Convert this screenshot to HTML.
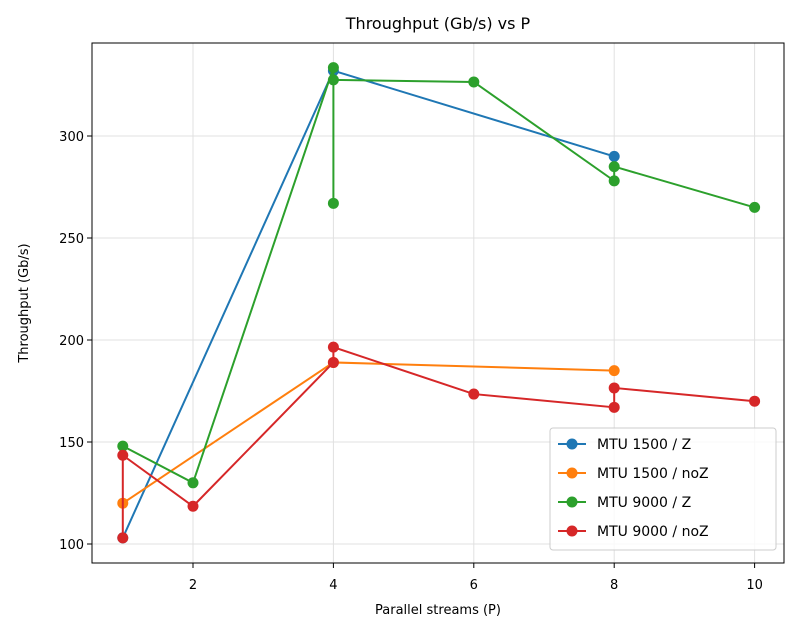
<!DOCTYPE html>
<html><head><meta charset="utf-8"><style>body{margin:0;background:#fff}svg{display:block;font-family:"DejaVu Sans","Liberation Sans",sans-serif}</style></head>
<body>
<svg id="chart" width="799" height="634">
<rect width="799" height="634" fill="#fff"/>
<g id="grid"></g><g id="series"></g><g id="axes"></g>
</svg>
<script>
const xTicks=[2,4,6,8,10];
const yTicks=[100,150,200,250,300];
const seriesNames=["MTU 1500 / Z","MTU 1500 / noZ","MTU 9000 / Z","MTU 9000 / noZ"];
const colors=["#1f77b4","#ff7f0e","#2ca02c","#d62728"];
const x1500Z=[1,4,8];
const y1500Z=[103,332,290];
const x1500N=[1,4,8];
const y1500N=[120,189,185];
const x9000Z=[1,2,4,4,4,6,8,8,10];
const y9000Z=[148,130,333.5,267,327.5,326.5,278,285,265];
const x9000N=[1,1,2,4,4,6,8,8,10];
const y9000N=[103,143.5,118.5,189,196.5,173.5,167,176.5,170];
const xs=[x1500Z,x1500N,x9000Z,x9000N], ys=[y1500Z,y1500N,y9000Z,y9000N];
const L=92,R=784,T=43,B=563;
const sx=v=>193+(v-2)*70.2;
const sy=v=>544-(v-100)*2.04;
const NS="http://www.w3.org/2000/svg";
function mk(tag,attrs,parent,text){const e=document.createElementNS(NS,tag);for(const k in attrs)e.setAttribute(k,attrs[k]);if(text!==undefined)e.textContent=text;parent.appendChild(e);return e;}
const grid=document.getElementById('grid'),ser=document.getElementById('series'),ax=document.getElementById('axes');
xTicks.forEach(t=>{const x=sx(t);
 const g=mk('line',{x1:x,x2:x,y1:T,y2:B,stroke:'#e0e0e0','stroke-width':1},grid);
 
 
 mk('line',{x1:x,x2:x,y1:B,y2:B+5,stroke:'#000'},ax);
 const tl=mk('text',{x:x,y:B+26,'text-anchor':'middle','font-size':13},ax,String(t));
 
 
});
yTicks.forEach(t=>{const y=sy(t);
 const g=mk('line',{x1:L,x2:R,y1:y,y2:y,stroke:'#e0e0e0','stroke-width':1},grid);
 
 
 mk('line',{x1:L-5,x2:L,y1:y,y2:y,stroke:'#000'},ax);
 const tl=mk('text',{x:L-8,y:y+5,'text-anchor':'end','font-size':13},ax,String(t));
 
 
});
xs.forEach((xa,i)=>{
 const pts=xa.map((x,j)=>sx(x)+','+sy(ys[i][j])).join(' ');
 const pl=mk('polyline',{points:pts,fill:'none',stroke:colors[i],'stroke-width':2},ser);
 
 
 xa.forEach((x,j)=>{const c=mk('circle',{cx:sx(x),cy:sy(ys[i][j]),r:5.5,fill:colors[i]},ser);
  
  });
});
const fr=mk('rect',{x:L,y:T,width:R-L,height:B-T,fill:'none',stroke:'#000','stroke-width':1},ax);


const ti=mk('text',{x:(L+R)/2,y:29,'text-anchor':'middle','font-size':16},ax,'Throughput (Gb/s) vs P');


const xt=mk('text',{x:(L+R)/2,y:614,'text-anchor':'middle','font-size':13},ax,'Parallel streams (P)');


const yt=mk('text',{x:0,y:0,'text-anchor':'middle','font-size':13,transform:'translate(28,303) rotate(-90)'},ax,'Throughput (Gb/s)');


const lg=mk('g',{},ax);


mk('rect',{x:550,y:428,width:226,height:122,rx:3,fill:'#fff','fill-opacity':0.8,stroke:'#ccc'},lg);
seriesNames.forEach((n,i)=>{const y=444+i*29;
 const e=mk('g',{},lg);
 
 
 mk('line',{x1:558,x2:586,y1:y,y2:y,stroke:colors[i],'stroke-width':2},e);
 mk('circle',{cx:572,cy:y,r:5.5,fill:colors[i]},e);
 mk('text',{x:597,y:y+5,'font-size':14},e,n);
});
</script>
</body></html>
